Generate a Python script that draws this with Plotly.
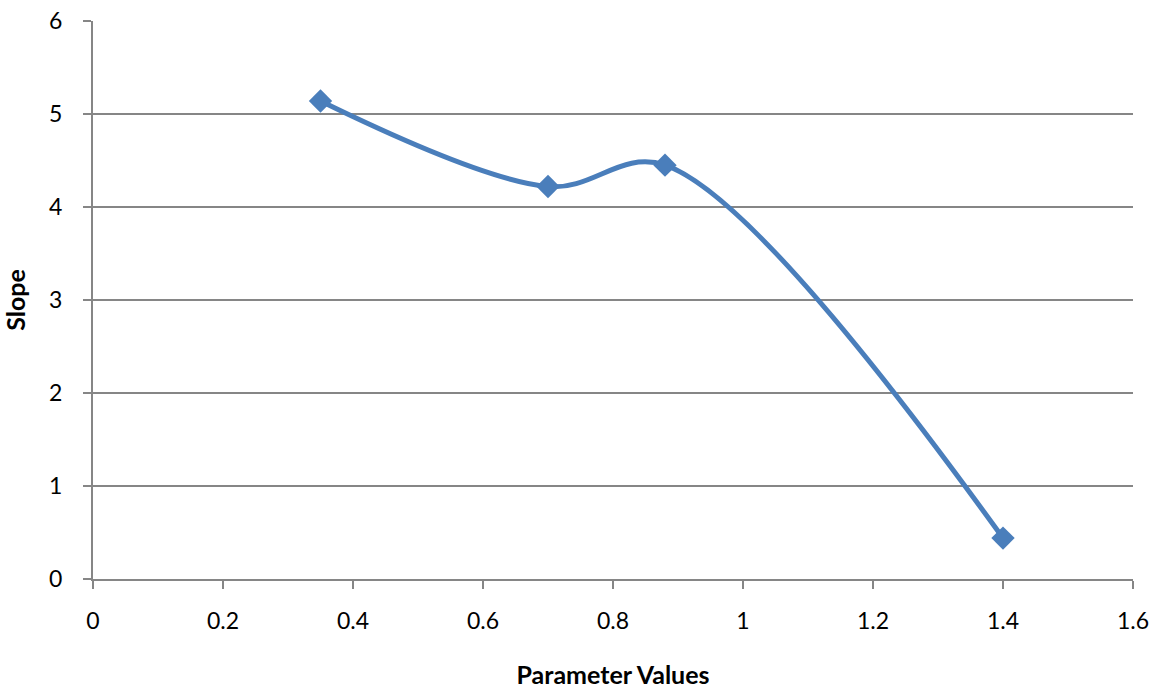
import plotly.graph_objects as go

param_values = [0.35, 0.70, 0.88, 1.40]
slope_values = [5.14, 4.22, 4.45, 0.44]

x_ticks = [0, 0.2, 0.4, 0.6, 0.8, 1, 1.2, 1.4, 1.6]
x_tick_labels = ["0", "0.2", "0.4", "0.6", "0.8", "1", "1.2", "1.4", "1.6"]
y_ticks = [0, 1, 2, 3, 4, 5, 6]

blue = "#4a7ebb"
grey = "#868686"
font_family = "Lato, Open Sans, sans-serif"

fig = go.Figure()
fig.add_trace(go.Scatter(
    x=param_values, y=slope_values,
    mode="lines+markers",
    line=dict(color=blue, width=5, shape="spline", smoothing=1.0),
    marker=dict(symbol="diamond", size=18, color=blue),
    showlegend=False,
))

fig.update_layout(
    width=1161, height=689,
    margin=dict(l=93, r=28, t=21, b=110),
    paper_bgcolor="white", plot_bgcolor="white",
    font=dict(family=font_family, size=23, color="black"),
    xaxis=dict(
        range=[0, 1.6], tickvals=x_ticks, ticktext=x_tick_labels,
        showgrid=False, zeroline=False,
        showline=True, linecolor=grey, linewidth=2,
        ticks="outside", ticklen=8, tickwidth=2, tickcolor=grey,
        ticklabelstandoff=12,
        tickfont=dict(size=23),
        automargin=False,
        title=dict(text="<b>Parameter Values</b>", font=dict(size=25), standoff=34),
    ),
    yaxis=dict(
        range=[0, 6], tickvals=y_ticks,
        showgrid=True, gridcolor=grey, gridwidth=1.5,
        zeroline=False,
        showline=True, linecolor=grey, linewidth=2,
        ticks="outside", ticklen=8, tickwidth=2, tickcolor=grey,
        ticklabelstandoff=16,
        tickfont=dict(size=23),
        automargin=False,
        title=dict(text="<b>Slope</b>", font=dict(size=25), standoff=30),
    ),
)

fig.write_html("out.html")
